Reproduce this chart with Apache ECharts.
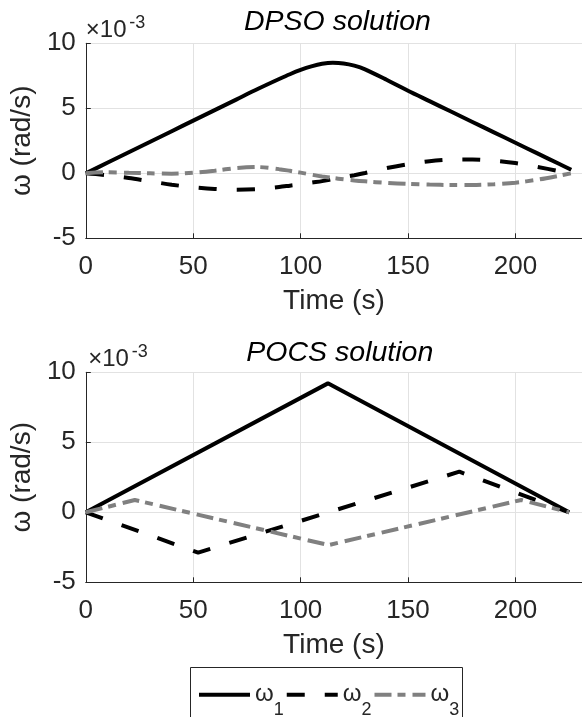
<!DOCTYPE html>
<html>
<head>
<meta charset="utf-8">
<title>Angular velocity – DPSO vs POCS</title>
<script src="https://cdn.jsdelivr.net/npm/echarts@6/dist/echarts.min.js"></script>
<style>
  html, body { margin: 0; padding: 0; background: #fff; }
  #chart { width: 582px; height: 717px; }
</style>
</head>
<body>
<div id="chart"></div>
<script>
// Angular velocity components, in units of 1e-3 rad/s.

// DPSO solution (smooth profiles)
const dpsoTime = [0, 10, 20, 30, 40, 50, 60, 70, 80, 90, 95, 100, 105, 110, 115, 120, 125, 130, 140, 150, 160, 170, 180, 190, 200, 210, 220, 226];
const dpsoW1 = [0, 0.81, 1.62, 2.43, 3.24, 4.05, 4.86, 5.67, 6.48, 7.25, 7.62, 7.95, 8.22, 8.42, 8.5, 8.45, 8.28, 8.0, 7.2, 6.35, 5.55, 4.75, 3.95, 3.15, 2.35, 1.55, 0.75, 0.27];
const dpsoW2 = [0, -0.15, -0.36, -0.62, -0.88, -1.07, -1.2, -1.27, -1.22, -1.05, -0.95, -0.85, -0.72, -0.6, -0.45, -0.3, -0.15, 0.02, 0.4, 0.7, 0.93, 1.05, 1.07, 0.97, 0.79, 0.5, 0.18, 0];
const dpsoW3 = [0, 0.08, 0.04, 0.0, -0.03, 0.04, 0.2, 0.4, 0.48, 0.32, 0.19, 0.05, -0.1, -0.24, -0.36, -0.46, -0.55, -0.62, -0.74, -0.82, -0.87, -0.9, -0.9, -0.84, -0.72, -0.5, -0.2, 0];

// POCS solution (piecewise linear profiles)
const pocsW1Time = [0, 112.7, 225];
const pocsW1 = [0, 9.21, 0];
const pocsW2Time = [0, 52.3, 173.9, 225];
const pocsW2 = [0, -2.88, 2.9, 0];
const pocsW3Time = [0, 22.8, 113, 202.7, 225];
const pocsW3 = [0, 0.88, -2.34, 0.88, 0];

// Axis ticks
const xTicks = { min: 0, max: 231, step: 50 };
const yTicks = { min: -5, max: 10, step: 5 };

const seriesNames = ['ω1', 'ω2', 'ω3'];
const titles = ['DPSO solution', 'POCS solution'];

const FONT = '"Liberation Sans", Arial, Helvetica, sans-serif';
const AX = '#262626';
const GRIDC = '#e2e2e2';
const LW = 4;

const pair = (t, v) => t.map((x, i) => [x, v[i]]);

const styles = [
  { color: '#000', type: 'solid' },
  { color: '#000', type: [18, 20] },
  { color: '#808080', type: [17, 6, 8, 7] }
];

const grids = [
  { left: 83.3, top: 43.3, width: 508.2, height: 195 },
  { left: 85.7, top: 372.3, width: 508.2, height: 210 }
];

function xAxis(gi) {
  return {
    type: 'value', gridIndex: gi,
    min: xTicks.min, max: xTicks.max, interval: xTicks.step,
    axisLine: { onZero: false, lineStyle: { color: AX, width: 1 } },
    axisTick: { inside: true, length: 5, lineStyle: { color: AX } },
    axisLabel: { fontSize: 26, color: AX, fontFamily: FONT, margin: 16, showMaxLabel: false },
    splitLine: { show: true, lineStyle: { color: GRIDC, width: 1 } },
    name: 'Time (s)', nameLocation: 'middle', nameGap: 49,
    nameTextStyle: { fontSize: 28, color: AX, fontFamily: FONT }
  };
}
function yAxis(gi) {
  return {
    type: 'value', gridIndex: gi,
    min: yTicks.min, max: yTicks.max, interval: yTicks.step,
    axisLine: { show: true, onZero: false, lineStyle: { color: AX, width: 1 } },
    axisTick: { show: true, inside: true, length: 5, lineStyle: { color: AX } },
    axisLabel: { fontSize: 26, color: AX, fontFamily: FONT, margin: 10 },
    splitLine: { show: true, lineStyle: { color: GRIDC, width: 1 } },
    name: 'ω (rad/s)', nameLocation: 'middle', nameRotate: 90, nameGap: 40,
    nameTextStyle: { fontSize: 28, color: AX, fontFamily: FONT }
  };
}

function line(name, gi, data, st, smooth) {
  return {
    type: 'line', name, xAxisIndex: gi, yAxisIndex: gi, data,
    showSymbol: false, symbol: 'none', smooth: smooth ? 0.3 : false,
    lineStyle: { color: st.color, width: LW, type: st.type, cap: 'butt' },
    itemStyle: { color: st.color },
    animation: false, silent: true
  };
}

const series = [
  line(seriesNames[0], 0, pair(dpsoTime, dpsoW1), styles[0], true),
  line(seriesNames[1], 0, pair(dpsoTime, dpsoW2), styles[1], true),
  line(seriesNames[2], 0, pair(dpsoTime, dpsoW3), styles[2], true),
  line(seriesNames[0], 1, pair(pocsW1Time, pocsW1), styles[0], false),
  line(seriesNames[1], 1, pair(pocsW2Time, pocsW2), styles[1], false),
  line(seriesNames[2], 1, pair(pocsW3Time, pocsW3), styles[2], false)
];

// Titles, the ×10^-3 exponent markers and the legend frame
const graphic = [];
grids.forEach((g, i) => {
  const cx = g.left + g.width / 2;
  graphic.push({
    type: 'text', silent: true,
    style: { text: titles[i], x: cx, y: i === 0 ? 22 : 353, align: 'center', verticalAlign: 'middle',
             fontSize: 28.5, fontStyle: 'italic', fontFamily: FONT, fill: '#000' }
  });
  graphic.push({
    type: 'text', silent: true,
    style: { text: '×10', x: g.left + 2.5, y: g.top - 12.5, align: 'left', verticalAlign: 'middle',
             fontSize: 24, fontFamily: FONT, fill: AX }
  });
  graphic.push({
    type: 'text', silent: true,
    style: { text: '-3', x: g.left + 46, y: g.top - 20.5, align: 'left', verticalAlign: 'middle',
             fontSize: 18, fontFamily: FONT, fill: AX }
  });
});
graphic.push({
  type: 'rect', silent: true, z: -1,
  shape: { x: 190.5, y: 667.5, width: 272, height: 70 },
  style: { fill: '#fff', stroke: AX, lineWidth: 1 }
});

const chart = echarts.init(document.getElementById('chart'), null, { renderer: 'canvas' });
chart.setOption({
  backgroundColor: '#fff',
  animation: false,
  grid: grids,
  xAxis: [xAxis(0), xAxis(1)],
  yAxis: [yAxis(0), yAxis(1)],
  legend: {
    data: seriesNames,
    left: 190, top: 682.7,
    orient: 'horizontal',
    itemWidth: 51, itemHeight: 14, itemGap: 1,
    padding: [0, 3, 0, 7],
    borderWidth: 0,
    selectedMode: false,
    lineStyle: { width: LW },
    itemStyle: { opacity: 0 },
    formatter: name => '{w|ω}{s|' + name.slice(1) + '}',
    textStyle: {
      color: AX,
      rich: {
        w: { fontSize: 24, fontFamily: FONT, color: AX, lineHeight: 48, verticalAlign: 'middle' },
        s: { fontSize: 18, fontFamily: FONT, color: AX, lineHeight: 14, verticalAlign: 'bottom' }
      }
    }
  },
  graphic,
  series
});
</script>
</body>
</html>
